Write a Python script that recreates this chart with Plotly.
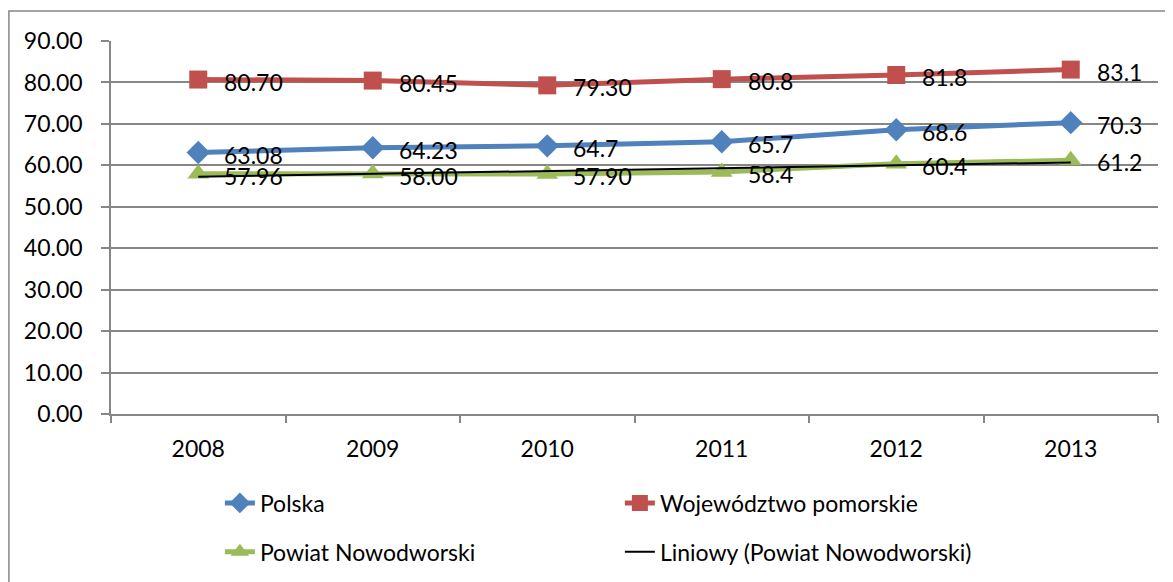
import numpy as np
import plotly.graph_objects as go

# Data
years = ["2008", "2009", "2010", "2011", "2012", "2013"]
polska = [63.08, 64.23, 64.7, 65.7, 68.6, 70.3]
polska_lbl = ["63.08", "64.23", "64.7", "65.7", "68.6", "70.3"]
pomorskie = [80.70, 80.45, 79.30, 80.8, 81.8, 83.1]
pomorskie_lbl = ["80.70", "80.45", "79.30", "80.8", "81.8", "83.1"]
powiat = [57.96, 58.00, 57.90, 58.4, 60.4, 61.2]
powiat_lbl = ["57.96", "58.00", "57.90", "58.4", "60.4", "61.2"]

FONT = "Lato"
FS = 23
GREY = "#868686"

xs = np.arange(len(years))

# linear trend for Powiat Nowodworski
z = np.polyfit(xs, powiat, 1)
trend = np.poly1d(z)(xs)

fig = go.Figure()

series = [
    ("Polska", polska, polska_lbl, "#4F81BD", "diamond", 18, "legend"),
    ("Województwo pomorskie", pomorskie, pomorskie_lbl, "#C0504D", "square", 18, "legend"),
    ("Powiat Nowodworski", powiat, powiat_lbl, "#9BBB59", "triangle-up", 19, "legend2"),
]

for name, vals, lbls, col, sym, sz, lg in series:
    fig.add_trace(go.Scatter(
        x=xs, y=vals, mode="lines+markers", name=name,
        line=dict(color=col, width=5),
        marker=dict(symbol=sym, size=sz, color=col),
        legend=lg,
    ))

fig.add_trace(go.Scatter(
    x=xs, y=trend, mode="lines", name="Liniowy (Powiat Nowodworski)",
    line=dict(color="black", width=2), legend="legend2",
))

# data labels to the right of each point
for name, vals, lbls, col, sym, sz, lg in series:
    for xi, v, t in zip(xs, vals, lbls):
        fig.add_annotation(
            x=xi, y=v, text=t, showarrow=False,
            xanchor="left", yanchor="middle", xshift=24, yshift=-2,
            font=dict(family=FONT, size=FS, color="black"),
        )

# outer chart frame
fig.add_shape(
    type="rect", xref="paper", yref="paper",
    x0=-0.0975, x1=1.2, y0=-0.6, y1=1.0804,
    line=dict(color=GREY, width=1.5), fillcolor="rgba(0,0,0,0)",
    layer="below",
)

fig.update_layout(
    width=1173, height=582,
    margin=dict(l=103, r=23, t=33, b=176),
    plot_bgcolor="white", paper_bgcolor="white",
    font=dict(family=FONT, size=FS, color="black"),
    showlegend=True,
    legend=dict(
        orientation="h", x=0.104, y=-0.181, xanchor="left", yanchor="top",
        entrywidth=355, entrywidthmode="pixels",
        font=dict(family=FONT, size=FS), bgcolor="rgba(0,0,0,0)",
    ),
    legend2=dict(
        orientation="h", x=0.104, y=-0.312, xanchor="left", yanchor="top",
        entrywidth=355, entrywidthmode="pixels",
        font=dict(family=FONT, size=FS), bgcolor="rgba(0,0,0,0)",
    ),
    xaxis=dict(
        range=[-0.5, 5.5], tickvals=xs, ticktext=years,
        showgrid=False, zeroline=False,
        showline=True, linecolor=GREY, linewidth=1.5,
        ticks="", ticklabelstandoff=14,
        minor=dict(tick0=-0.5, dtick=1, ticks="outside", ticklen=7,
                   tickcolor=GREY, tickwidth=1.5, showgrid=False),
        tickfont=dict(family=FONT, size=FS),
    ),
    yaxis=dict(
        range=[0, 90], dtick=10, tickformat=".2f",
        showgrid=True, gridcolor=GREY, gridwidth=1.5,
        zeroline=False, showline=True, linecolor=GREY, linewidth=1.5,
        ticks="outside", ticklen=8, tickcolor=GREY, tickwidth=1.5,
        ticklabelstandoff=14,
        tickfont=dict(family=FONT, size=FS),
    ),
)

fig.write_html("out.html")
